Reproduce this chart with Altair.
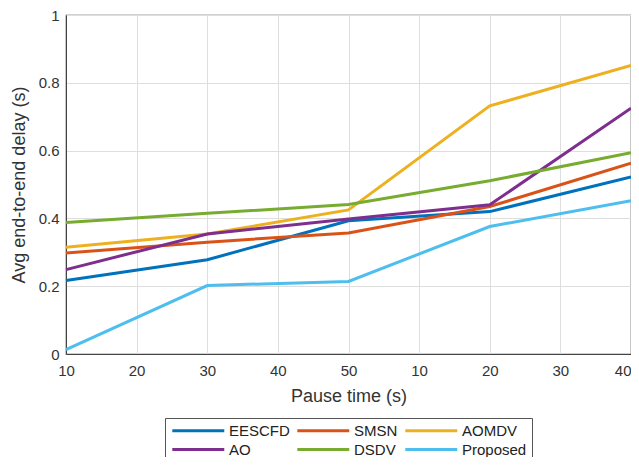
import altair as alt
import pandas as pd

series = ["EESCFD", "SMSN", "AOMDV", "AO", "DSDV", "Proposed"]
colors = ["#0072BD", "#D95319", "#EDB120", "#7E2F8E", "#77AC30", "#4DBEEE"]
x_pos = [0, 2, 4, 6, 8]
tick_labels = ["10", "20", "30", "40", "50", "10", "20", "30", "40"]

eescfd = [0.217, 0.278, 0.393, 0.420, 0.522]
smsn = [0.298, 0.330, 0.357, 0.435, 0.563]
aomdv = [0.315, 0.354, 0.425, 0.732, 0.851]
ao = [0.249, 0.354, 0.398, 0.440, 0.725]
dsdv = [0.388, 0.415, 0.441, 0.511, 0.594]
proposed = [0.013, 0.202, 0.214, 0.376, 0.452]

vals = [eescfd, smsn, aomdv, ao, dsdv, proposed]
rows = []
for name, v in zip(series, vals):
    for xi, yi in zip(x_pos, v):
        rows.append({"x": xi, "y": yi, "series": name})
df = pd.DataFrame(rows)

label_expr = "[" + ",".join("'%s'" % t for t in tick_labels) + "][datum.value]"

FONT = "Liberation Sans"

chart = alt.Chart(df).mark_line(strokeWidth=3).encode(
    x=alt.X("x:Q", scale=alt.Scale(domain=[0, 8], nice=False),
            axis=alt.Axis(values=list(range(9)), labelExpr=label_expr,
                          title="Pause time (s)", grid=True, ticks=False,
                          labelFlush=False, labelPadding=9, titlePadding=9,
                          labelAlign=alt.ExprRef(expr="datum.value == 8 ? 'right' : 'center'"))),
    y=alt.Y("y:Q", scale=alt.Scale(domain=[0, 1], nice=False),
            axis=alt.Axis(values=[0, 0.2, 0.4, 0.6, 0.8, 1], format="~g",
                          title="Avg end-to-end delay (s)", grid=True, ticks=False,
                          labelPadding=7, titlePadding=10)),
    color=alt.Color("series:N", sort=series,
                    scale=alt.Scale(domain=series, range=colors),
                    legend=alt.Legend(title=None, orient="none", legendX=99, legendY=403,
                                      direction="horizontal",
                                      columns=3, symbolType="M-1,0H9", symbolSize=108,
                                      symbolStrokeWidth=3, labelFontSize=15,
                                      labelFont=FONT, labelColor="#222222",
                                      strokeColor="#555555",
                                      padding=5, rowPadding=3, columnPadding=1,
                                      labelOffset=44)),
).properties(
    width=565, height=339,
    padding={"left": 58, "top": 7, "right": 0, "bottom": 103},
    autosize=alt.AutoSizeParams(type="none"),
).configure_view(
    stroke="#444444", strokeWidth=1.2
).configure_axis(
    labelFont=FONT, titleFont=FONT, labelFontSize=15, titleFontSize=18,
    titleFontWeight="normal", labelColor="#333333", titleColor="#333333",
    gridColor="#dedede", domainColor="#444444"
)

chart.save("out.html", embed_options={"renderer": "svg", "actions": False})
